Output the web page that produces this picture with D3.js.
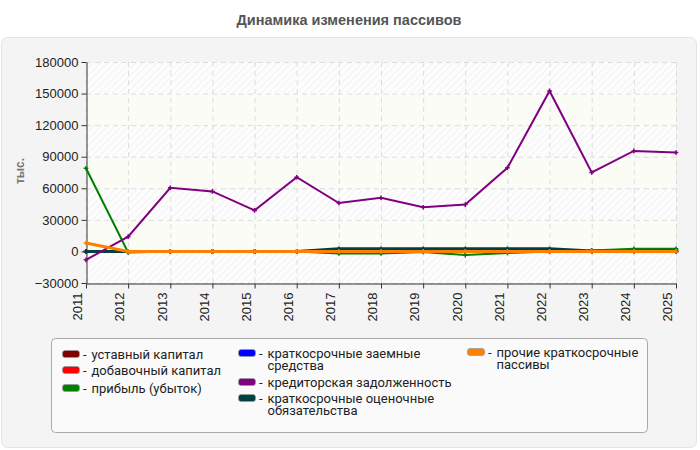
<!DOCTYPE html>
<html><head><meta charset="utf-8">
<script src="https://cdn.jsdelivr.net/npm/d3@7"></script>
<style>body{margin:0;background:#fff;}svg{display:block;font-family:"Liberation Sans",Arial,sans-serif;}</style>
</head><body><svg id="c" width="700" height="450"></svg>
<script>
const years = [2011,2012,2013,2014,2015,2016,2017,2018,2019,2020,2021,2022,2023,2024,2025];
const yTicks = [-30000,0,30000,60000,90000,120000,150000,180000];
const ustavny   = [0,0,0,0,0,0,0,0,0,0,0,0,0,0,0];
const dobavochny= [0,0,0,0,0,0,0,0,0,0,0,0,0,0,0];
const pribyl    = [79000,-1000,0,0,0,0,-2000,-2000,-500,-3500,-1500,0,1000,2500,2500];
const zaemnye   = [0,0,0,0,0,0,0,0,0,0,0,0,0,0,0];
const kreditor  = [-8000,14000,60500,57000,39000,70500,46000,51000,42000,44500,79500,152500,75000,95500,94000];
const otsenoch  = [0,0,0,0,0,0,2500,2500,2500,2500,2500,2500,500,1000,1000];
const prochie   = [8000,0,0,0,0,0,0,0,0,0,0,0,0,0,0];

const series = [
  {name:"уставный капитал", color:"#800000", values:ustavny},
  {name:"добавочный капитал", color:"#ff0000", values:dobavochny},
  {name:"прибыль (убыток)", color:"#008000", values:pribyl},
  {name:"краткосрочные заемные средства", color:"#0000ff", values:zaemnye},
  {name:"кредиторская задолженность", color:"#800080", values:kreditor},
  {name:"краткосрочные оценочные обязательства", color:"#004040", values:otsenoch},
  {name:"прочие краткосрочные пассивы", color:"#ff8000", values:prochie}
];
const drawOrder = [0,1,3,5,2,4,6];

const svg = d3.select("#c");
const defs = svg.append("defs");
const pat = defs.append("pattern").attr("id","hatch").attr("width",5).attr("height",5)
  .attr("patternUnits","userSpaceOnUse").attr("patternTransform","rotate(45)");
pat.append("rect").attr("width",5).attr("height",5).attr("fill","#fdfdfd");
pat.append("line").attr("x1",0).attr("y1",0).attr("x2",0).attr("y2",5).attr("stroke","#e8e8e8").attr("stroke-width",1);

svg.append("rect").attr("x",1.5).attr("y",37.5).attr("width",695).attr("height",410).attr("rx",6)
  .attr("fill","#f4f4f4").attr("stroke","#e4e4e4");
svg.append("text").attr("x",349).attr("y",25).attr("text-anchor","middle")
  .attr("font-size",14.5).attr("font-weight","bold").attr("fill","#555").text("Динамика изменения пассивов");

const L=86, R=676, T=62, B=283;
const x = d3.scalePoint().domain(years).range([L,R]);
const y = d3.scaleLinear().domain([-30000,180000]).range([B,T]);

const g = svg.append("g");
g.append("rect").attr("x",L).attr("y",T).attr("width",R-L).attr("height",B-T).attr("fill","url(#hatch)");
for(let i=0;i<yTicks.length-1;i++){
  const a=yTicks[i], b=yTicks[i+1];
  if(i%2===1){
    g.append("rect").attr("x",L).attr("y",y(b)).attr("width",R-L).attr("height",y(a)-y(b)).attr("fill","#fcfcf6");
  }
}
g.selectAll(".hg").data(yTicks).join("line").attr("x1",L).attr("x2",R)
  .attr("y1",d=>y(d)+0.5).attr("y2",d=>y(d)+0.5).attr("stroke","#dcdcdc").attr("stroke-dasharray","5,4");
g.selectAll(".vg").data(years).join("line").attr("y1",T).attr("y2",B)
  .attr("x1",d=>x(d)+0.5).attr("x2",d=>x(d)+0.5).attr("stroke","#dcdcdc").attr("stroke-dasharray","5,4");

const ya = svg.append("g").attr("transform",`translate(${L+0.5},0)`)
  .call(d3.axisLeft(y).tickValues(yTicks).tickSize(5).tickSizeOuter(0).tickFormat(d3.format("d")));
ya.selectAll("text").attr("font-size",13).attr("fill","#222").attr("font-family","Liberation Sans, Arial, sans-serif").attr("x",-8);
ya.selectAll("line,path").attr("stroke","#333");
const xa = svg.append("g").attr("transform",`translate(0,${B+0.5})`)
  .call(d3.axisBottom(x).tickSize(5).tickSizeOuter(0));
xa.selectAll("text").attr("font-size",13).attr("fill","#222").attr("font-family","Liberation Sans, Arial, sans-serif")
  .attr("transform","rotate(-90)").attr("text-anchor","end").attr("dx","-8").attr("dy","-0.32em").attr("y",0).attr("x",-1);
xa.selectAll("line,path").attr("stroke","#333");

svg.append("text").attr("transform","translate(24,171) rotate(-90)").attr("text-anchor","middle")
  .attr("font-size",12).attr("font-weight","bold").attr("fill","#777").text("тыс.");

const line = d3.line().x((d,i)=>x(years[i])).y(d=>y(d));
const lg = svg.append("g");
drawOrder.forEach(k=>{
  const s=series[k];
  lg.append("path").datum(s.values).attr("d",line).attr("fill","none")
    .attr("stroke",s.color).attr("stroke-width",k===6||k===5?3:2);
  lg.selectAll(null).data(s.values).join("path")
    .attr("transform",(d,i)=>`translate(${x(years[i])},${y(d)})`)
    .attr("d",d3.symbol(d3.symbolCross,12)).attr("fill",s.color);
});

svg.append("rect").attr("x",51.5).attr("y",338.5).attr("width",596).attr("height",94).attr("rx",4)
  .attr("fill","#fafafa").attr("stroke","#aaa");
const legendItems = [
  {k:0,x:62,y:354,lines:["уставный капитал"]},
  {k:1,x:62,y:370,lines:["добавочный капитал"]},
  {k:2,x:62,y:388,lines:["прибыль (убыток)"]},
  {k:3,x:238,y:353,lines:["краткосрочные заемные","средства"]},
  {k:4,x:238,y:382,lines:["кредиторская задолженность"]},
  {k:5,x:238,y:398,lines:["краткосрочные оценочные","обязательства"]},
  {k:6,x:467,y:352,lines:["прочие краткосрочные","пассивы"]}
];
legendItems.forEach(it=>{
  const s=series[it.k];
  svg.append("rect").attr("x",it.x+0.5).attr("y",it.y-3.5).attr("width",17).attr("height",7).attr("rx",2.5)
    .attr("fill",s.color).attr("stroke","#999").attr("stroke-width",0.8);
  svg.append("text").attr("x",it.x+21).attr("y",it.y+4.5).attr("font-size",13).attr("fill","#222")
    .attr("font-family","Roboto, sans-serif").text("-");
  it.lines.forEach((ln,j)=>{
    svg.append("text").attr("x",it.x+29.5).attr("y",it.y+4.5+j*12.5).attr("font-size",13).attr("fill","#222")
      .attr("font-family","Roboto, sans-serif").text(ln);
  });
});
</script></body></html>
